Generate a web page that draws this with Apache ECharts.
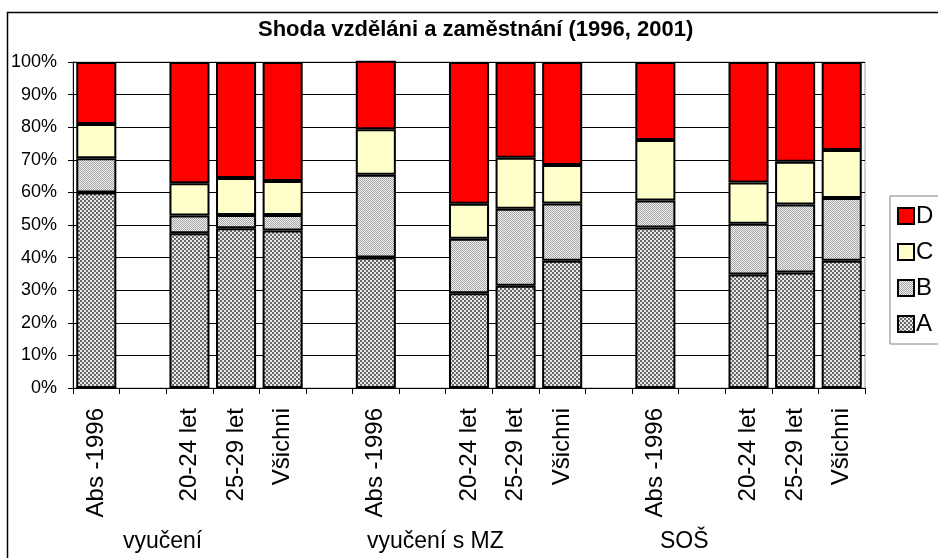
<!DOCTYPE html>
<html>
<head>
<meta charset="utf-8">
<script src="https://cdn.jsdelivr.net/npm/echarts@6/dist/echarts.min.js"></script>
<style>
  html, body { margin: 0; padding: 0; background: #fff; }
  #chart { width: 938px; height: 558px; }
</style>
</head>
<body>
<div id="chart"></div>
<script>
var categories = ['Abs -1996', '', '20-24 let', '25-29 let', 'Všichni', '',
                  'Abs -1996', '', '20-24 let', '25-29 let', 'Všichni', '',
                  'Abs -1996', '', '20-24 let', '25-29 let', 'Všichni'];
var groups = ['vyučení', 'vyučení s MZ', 'SOŠ'];
var A = [60.0, null, 47.5, 49.0, 48.3, null, 40.0, null, 29.1, 31.4, 39.0, null, 49.2, null, 34.8, 35.4, 39.0];
var B = [10.5, null, 5.4, 4.1, 4.8, null, 25.4, null, 16.7, 23.6, 17.6, null, 8.3, null, 15.6, 20.9, 19.3];
var C = [10.5, null, 9.9, 11.3, 10.4, null, 14.0, null, 10.7, 15.6, 11.8, null, 18.6, null, 12.6, 13.1, 14.7];
var D = [19.0, null, 37.2, 35.6, 36.5, null, 21.0, null, 43.5, 29.4, 31.6, null, 23.9, null, 37.0, 30.6, 27.0];

// checker pattern tiles
function makePattern(cell, dark, light) {
  var c = document.createElement('canvas');
  c.width = cell * 2;
  c.height = cell * 2;
  var ctx = c.getContext('2d');
  ctx.fillStyle = light;
  ctx.fillRect(0, 0, cell * 2, cell * 2);
  ctx.fillStyle = dark;
  ctx.fillRect(0, 0, cell, cell);
  ctx.fillRect(cell, cell, cell, cell);
  return { image: c, repeat: 'repeat' };
}
var patA = makePattern(2, '#6a6a6a', '#e8e8e8');
var patB = makePattern(1, '#a6a6a6', '#f0f0f0');

var font = 'Liberation Sans, Arial, sans-serif';
var chart = echarts.init(document.getElementById('chart'));

function barSeries(name, data, color) {
  return {
    name: name,
    type: 'bar',
    stack: 'total',
    data: data,
    clip: false,
    barCategoryGap: '14%',
    itemStyle: { color: color, borderColor: '#000', borderWidth: 2 },
    emphasis: { disabled: true }
  };
}

var option = {
  animation: false,
  backgroundColor: '#fff',
  title: {
    text: 'Shoda vzděláni a zaměstnání (1996, 2001)',
    left: 258,
    top: 19,
    padding: 0,
    textStyle: { fontFamily: font, fontSize: 22, fontWeight: 'bold', color: '#000' }
  },
  legend: {
    orient: 'vertical',
    left: 890,
    top: 196,
    padding: [8, 8, 8, 7],
    itemWidth: 16,
    itemHeight: 16,
    itemGap: 12,
    icon: 'rect',
    borderColor: '#808080',
    borderWidth: 1,
    data: ['D', 'C', 'B', 'A'],
    textStyle: { fontFamily: font, fontSize: 24, color: '#000', padding: [0, 0, 0, -3] }
  },
  grid: {
    left: 73,
    right: 73,
    top: 62,
    bottom: 170,
    show: true,
    borderColor: '#a0a0a0',
    borderWidth: 1
  },
  xAxis: {
    type: 'category',
    data: categories,
    axisLine: { lineStyle: { color: '#000', width: 1 } },
    axisTick: { show: true, length: 6, lineStyle: { color: '#000' } },
    axisLabel: {
      interval: 0,
      rotate: 90,
      margin: 20,
      fontFamily: font,
      fontSize: 24,
      color: '#000'
    }
  },
  yAxis: {
    type: 'value',
    min: 0,
    max: 100,
    interval: 10,
    axisLine: { show: true, lineStyle: { color: '#000', width: 1 } },
    axisTick: { show: true, length: 5, lineStyle: { color: '#000' } },
    splitLine: { lineStyle: { color: '#000', width: 1 } },
    axisLabel: {
      formatter: '{value}%',
      margin: 16,
      fontFamily: font,
      fontSize: 18,
      color: '#000'
    }
  },
  graphic: [
    {
      type: 'rect',
      shape: { x: 7.5, y: 12.5, width: 1000, height: 600 },
      style: { fill: null, stroke: '#000', lineWidth: 1.5 },
      silent: true
    },
    { type: 'text', left: 123, top: 530, style: { text: groups[0], font: '23px ' + font, fill: '#000' } },
    { type: 'text', left: 367, top: 530, style: { text: groups[1], font: '23px ' + font, fill: '#000' } },
    { type: 'text', left: 660, top: 530, style: { text: groups[2], font: '23px ' + font, fill: '#000' } }
  ],
  series: [
    barSeries('A', A, patA),
    barSeries('B', B, patB),
    barSeries('C', C, '#ffffcc'),
    barSeries('D', D, '#ff0000')
  ]
};
chart.setOption(option);
</script>
</body>
</html>
